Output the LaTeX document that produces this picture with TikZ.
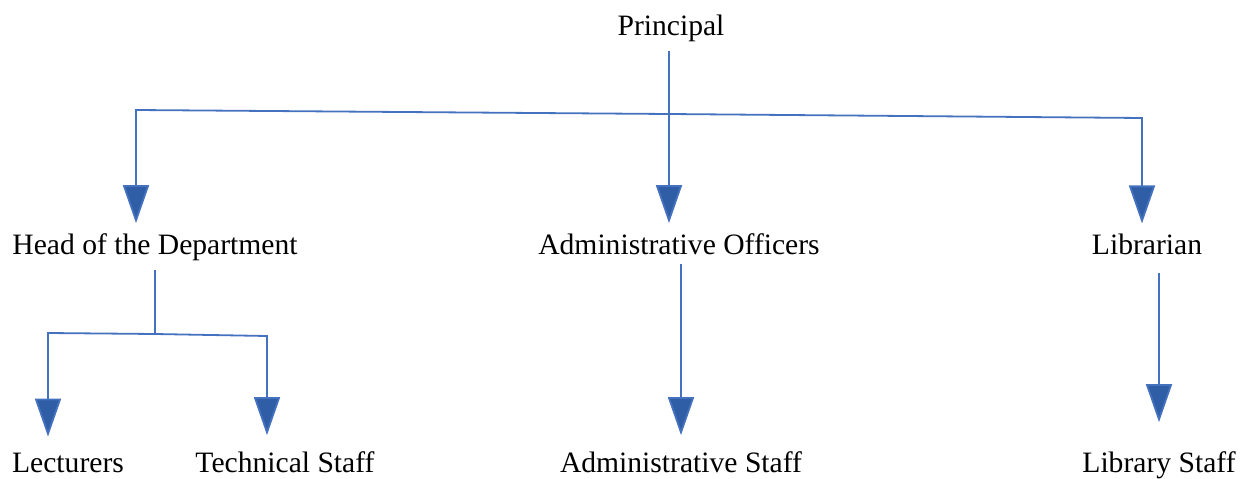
\documentclass[tikz,border=0pt]{standalone}
\usepackage{fontspec}
\setmainfont{Liberation Serif}
\usetikzlibrary{arrows.meta}
\definecolor{linkblue}{RGB}{68,114,190}
\definecolor{headblue}{RGB}{47,94,166}

\begin{document}
\begin{tikzpicture}[
    x=1pt,y=-1pt,
    post/.style={font=\fontsize{29.6}{34}\selectfont,inner sep=0pt,outer sep=10pt,anchor=base},
    staff/.style={post,outer sep=16pt},
    link/.style={draw=linkblue,line width=1.8pt},
    arrow/.style={link,-{Triangle[width=26pt,length=38pt,fill=headblue]}}
]
\useasboundingbox (0,0) rectangle (1250,479);

% Posts
\node[post] (prin) at (671,35) {Principal};
\node[post] (hod) at (155,254) {Head of the Department};
\node[post] (aoff) at (679,254) {Administrative Officers};
\node[post] (lib) at (1147,254) {Librarian};
\node[staff] (lect) at (68,472) {Lecturers};
\node[staff] (tech) at (285,472) {Technical Staff};
\node[staff] (astaff) at (681,472) {Administrative Staff};
\node[staff] (lstaff) at (1159,472) {Library Staff};

% Principal to the three heads
\coordinate (hub) at (669,114);
\coordinate (barL) at (136,110);
\coordinate (barR) at (1142,118);
\draw[link] (prin.south -| hub) -- (hub);
\draw[arrow] (hub) -- (barL) -- (barL |- hod.north);
\draw[arrow] (hub) -- (hub |- aoff.north);
\draw[arrow] (hub) -- (barR) -- (barR |- lib.north);

% Department split
\coordinate (split) at (155,334);
\coordinate (splitL) at (48,333);
\coordinate (splitR) at (267,336);
\draw[link] (hod.south) -- (split);
\draw[arrow] (split) -- (splitL) -- (splitL |- lect.north);
\draw[arrow] (split) -- (splitR) -- (splitR |- tech.north);

% Office and library staff
\draw[arrow] (aoff.south -| astaff) -- (astaff.north);
\draw[arrow,shorten <=9pt,shorten >=13pt] (lib.south -| lstaff) -- (lstaff.north);
\end{tikzpicture}
\end{document}
